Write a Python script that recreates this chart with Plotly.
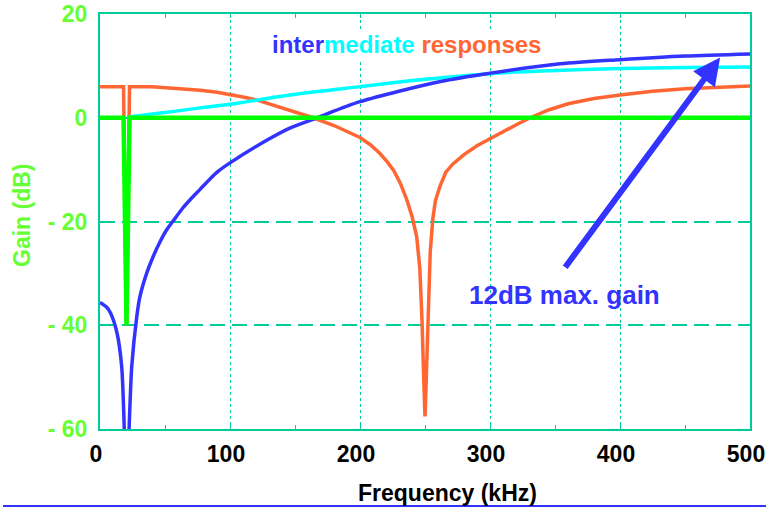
import plotly.graph_objects as go

# ---- data ----
freq_orange = [0, 18.1, 20.4, 22.7, 40, 60, 77, 90, 100, 110, 121, 135, 150, 164, 180, 192,
               200, 208, 215, 221, 226, 231, 236, 240, 243.6, 246, 247.7, 249.2, 250, 250.8, 251.8,
               253, 254, 256, 258, 261.5, 266, 271.5, 280, 290, 300, 312, 322, 331, 345, 360,
               380, 400, 425, 450, 475, 500]
gain_orange = [6, 6, -40, 6, 6.0, 5.7, 5.3, 4.9, 4.5, 4.0, 3.4, 2.3, 1.1, 0, -1.5, -2.8,
               -3.8, -5.2, -6.8, -8.5, -10.2, -12.6, -15.8, -19, -22.9, -29, -39, -51.8, -57.6, -51.8, -42,
               -32, -26, -19.5, -16, -13.2, -10.5, -8.9, -7.1, -5.4, -4.0, -2.4, -1.1, 0, 1.5, 2.7,
               3.7, 4.4, 5.1, 5.6, 5.9, 6.1]

freq_cyan = [22.7, 50, 77, 100, 146, 200, 250, 300, 350, 400, 450, 500]
gain_cyan = [0.2, 1.0, 1.9, 2.6, 4.4, 6.0, 7.4, 8.5, 9.1, 9.5, 9.7, 9.8]

freq_blue = [0, 5, 8, 13, 16.7, 20.4, 24.4, 28.3, 30.8, 36, 41, 46, 51.3, 58, 64, 69, 77, 85,
             91, 100, 128.6, 146, 167, 200, 262, 300, 354, 400, 450, 500]
gain_blue = [-35.6, -36.5, -37.6, -41.4, -48, -70, -48, -38.3, -34.4, -29.9, -26.7, -24, -21.6,
             -19.3, -17.3, -15.9, -13.8, -11.7, -10.3, -8.7, -4.3, -2.0, 0, 3.1, 7.0, 8.6, 10.4,
             11.2, 11.9, 12.3]

freq_green = [0, 18.1, 20.4, 22.7, 500]
gain_green = [0, 0, -40, 0, 0]

x_ticks = [0, 100, 200, 300, 400, 500]
y_ticks = [20, 0, -20, -40, -60]
y_ticktext = ["20", "0", "- 20", "- 40", "- 60"]

# ---- styles ----
FRAME = "#00CC99"
FONT = "Liberation Sans, Arial, sans-serif"

fig = go.Figure()
fig.add_trace(go.Scatter(x=freq_orange, y=gain_orange, mode="lines",
                         line=dict(color="#FF6633", width=3.5), hoverinfo="skip"))
fig.add_trace(go.Scatter(x=freq_cyan, y=gain_cyan, mode="lines",
                         line=dict(color="#00FFFF", width=3.5, shape="spline"), hoverinfo="skip"))
fig.add_trace(go.Scatter(x=freq_blue, y=gain_blue, mode="lines",
                         line=dict(color="#3333FF", width=3.5, shape="spline", smoothing=0.8),
                         hoverinfo="skip"))
fig.add_trace(go.Scatter(x=freq_green, y=gain_green, mode="lines",
                         line=dict(color="#00FF00", width=4.5), hoverinfo="skip"))

fig.update_layout(
    width=766, height=507,
    margin=dict(l=100, r=16, t=14, b=78, autoexpand=False),
    paper_bgcolor="white", plot_bgcolor="white",
    showlegend=False,
    font=dict(family=FONT),
)

fig.update_xaxes(
    range=[0, 500], tickvals=x_ticks, ticktext=[str(v) for v in x_ticks],
    tickfont=dict(size=23, color="black", family=FONT, weight="bold"),
    showline=True, linecolor=FRAME, linewidth=2, mirror="ticks",
    ticks="inside", ticklen=4, tickcolor=FRAME, tickwidth=1,
    minor=dict(dtick=50, ticks="inside", ticklen=4, tickcolor=FRAME, tickwidth=1, showgrid=False),
    showgrid=True, gridcolor=FRAME, gridwidth=1, griddash="dot",
    zeroline=False, ticklabelstandoff=3, ticklabelshift=-4, automargin=False,
)
fig.update_yaxes(
    range=[-60, 20], tickvals=y_ticks, ticktext=y_ticktext,
    tickfont=dict(size=23, color="#66FF33", family=FONT, weight="bold"),
    showline=True, linecolor=FRAME, linewidth=2, mirror=True,
    ticks="", showgrid=True, gridcolor=FRAME, gridwidth=2, griddash="15px,7px",
    zeroline=False, ticklabelstandoff=6, automargin=False,
)

# bottom blue rule
fig.add_shape(type="line", xref="paper", yref="paper",
              x0=(3 - 100) / 650, x1=(766 - 100) / 650, y0=-0.1855, y1=-0.1855,
              line=dict(color="#3333FF", width=2))

# axis titles as annotations
fig.add_annotation(xref="paper", yref="paper", x=-0.12, y=0.5157, text="Gain (dB)",
                   textangle=-90, showarrow=False, xanchor="center", yanchor="middle",
                   font=dict(size=23, color="#66FF33", family=FONT, weight="bold"))
fig.add_annotation(xref="paper", yref="paper", x=0.5346, y=-0.154, text="Frequency (kHz)",
                   showarrow=False, xanchor="center", yanchor="middle",
                   font=dict(size=23, color="black", family=FONT, weight="bold"))

# title-like label
fig.add_annotation(xref="x", yref="y", x=235.4, y=14.1,
                   text="<span style='color:#3333FF'>inter</span><span style='color:#00FFFF'>mediate</span>"
                        "<span style='color:#FF6633'> responses</span>",
                   showarrow=False, bgcolor="white", xanchor="center", yanchor="middle",
                   font=dict(size=24, family=FONT, weight="bold"))

# 12dB label and arrow
fig.add_annotation(xref="x", yref="y", x=357, y=-34.1, text="12dB max. gain",
                   showarrow=False, xanchor="center", yanchor="middle",
                   font=dict(size=26, color="#3333FF", family=FONT, weight="bold"))
fig.add_annotation(xref="x", yref="y", x=477, y=11.6, ax=357, ay=-29.1,
                   axref="x", ayref="y", text="", showarrow=True,
                   arrowhead=2, arrowsize=0.9, arrowwidth=6, arrowcolor="#3333FF")

fig.write_html("out.html", config={"displayModeBar": False},
               post_script="document.body.style.margin='0';document.body.style.overflow='hidden';")
